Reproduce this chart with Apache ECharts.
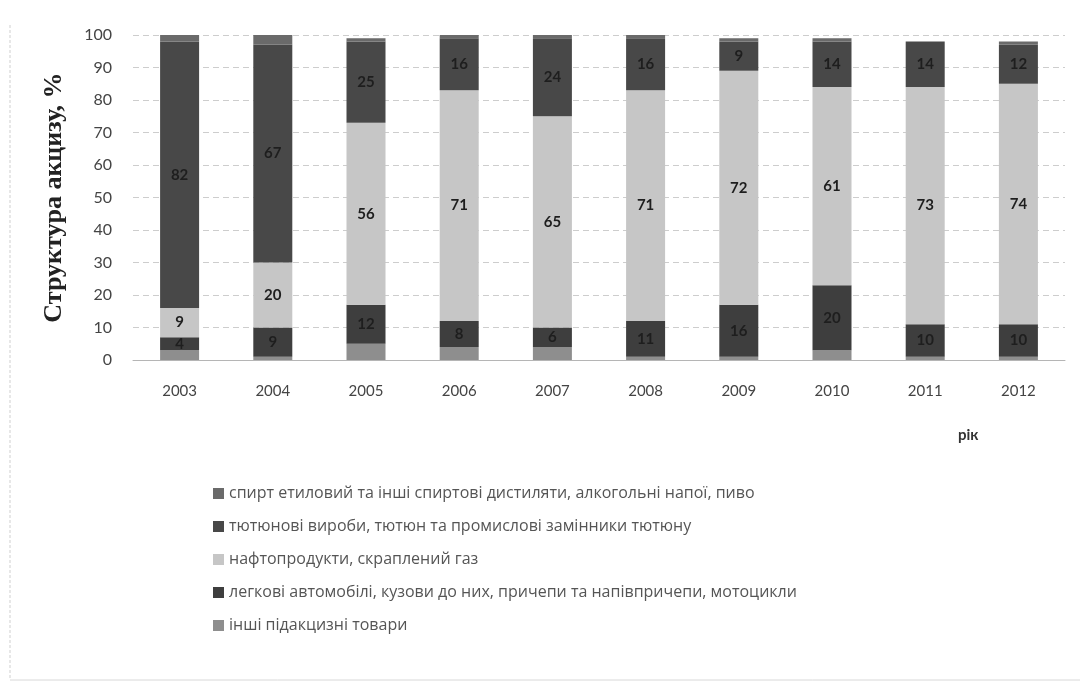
<!DOCTYPE html>
<html>
<head>
<meta charset="utf-8">
<script src="https://cdn.jsdelivr.net/npm/echarts@6/dist/echarts.min.js"></script>
<style>
html,body{margin:0;padding:0;background:#fff;}
#chart{width:1084px;height:687px;}
</style>
</head>
<body>
<div id="chart"></div>
<script>
// Categories
const years = ['2003','2004','2005','2006','2007','2008','2009','2010','2011','2012'];
// Series names (legend order, top to bottom)
const nameAlcohol = 'спирт етиловий та інші спиртові дистиляти, алкогольні напої, пиво';
const nameTobacco = 'тютюнові вироби, тютюн та промислові замінники тютюну';
const namePetrol  = 'нафтопродукти, скраплений газ';
const nameCars    = 'легкові автомобілі, кузови до них, причепи та напівпричепи, мотоцикли';
const nameOther   = 'інші підакцизні товари';
// Values, % (stacked bottom to top: other, cars, petroleum, tobacco, alcohol)
const other   = [3, 1, 5, 4, 4, 1, 1, 3, 1, 1];
const cars    = [4, 9, 12, 8, 6, 11, 16, 20, 10, 10];
const petrol  = [9, 20, 56, 71, 65, 71, 72, 61, 73, 74];
const tobacco = [82, 67, 25, 16, 24, 16, 9, 14, 14, 12];
const alcohol = [2, 3, 1, 1, 1, 1, 1, 1, 0, 1];
// Y axis ticks
const yMin = 0, yMax = 100, yStep = 10;

const chart = echarts.init(document.getElementById('chart'));
const font = 'Lato, "Open Sans", sans-serif';
const lbl = (minV) => ({
  show: true, position: 'inside', color: '#1e1e1e', fontSize: 15, fontWeight: 'bold', fontFamily: font,
  formatter: p => (p.value >= minV ? p.value : '')
});
function bar(name, data, color, label) {
  return {
    name, type: 'bar', stack: 'total', data, barWidth: 39,
    itemStyle: { color },
    label: label || { show: false },
    emphasis: { disabled: true }
  };
}
chart.setOption({
  animation: false,
  backgroundColor: '#ffffff',
  grid: { left: 133, right: 19, top: 35, bottom: 327 },
  xAxis: {
    type: 'category', data: years,
    axisTick: { show: false },
    axisLine: { show: true, lineStyle: { color: '#b5b5b5', width: 1 } },
    axisLabel: { margin: 24, fontSize: 15, color: '#444', fontFamily: font }
  },
  yAxis: {
    type: 'value', min: yMin, max: yMax, interval: yStep,
    axisLine: { show: false }, axisTick: { show: false },
    axisLabel: { margin: 21, fontSize: 16, color: '#444', fontFamily: font },
    splitLine: { lineStyle: { color: '#cdcdcd', type: [6, 4], width: 1 } },
    name: 'Структура акцизу, %', nameLocation: 'middle', nameGap: 66, nameRotate: 90,
    nameTextStyle: { fontFamily: '"Liberation Serif", serif', fontWeight: 'bold', fontSize: 26, color: '#222' }
  },
  legend: {
    orient: 'vertical', left: 208, top: 479, itemGap: 14, itemWidth: 11, itemHeight: 11,
    icon: 'rect',
    textStyle: { fontSize: 16, color: '#555', fontFamily: '"Open Sans", sans-serif', lineHeight: 19 },
    data: [nameAlcohol, nameTobacco, namePetrol, nameCars, nameOther]
  },
  graphic: [
    { type: 'text', left: 958, top: 428, style: { text: 'рік', font: 'bold 15px Lato, sans-serif', fill: '#333' } },
    { type: 'line', shape: { x1: 10, y1: 25, x2: 10, y2: 680 }, style: { stroke: '#cfcfcf', lineWidth: 1, lineDash: [3, 2] } },
    { type: 'line', shape: { x1: 10, y1: 680, x2: 1080, y2: 680 }, style: { stroke: '#d8d8d8', lineWidth: 1 } }
  ],
  series: [
    bar(nameOther, other, '#8e8e8e'),
    bar(nameCars, cars, '#3e3e3e', lbl(4)),
    bar(namePetrol, petrol, '#c6c6c6', lbl(4)),
    bar(nameTobacco, tobacco, '#484848', lbl(4)),
    bar(nameAlcohol, alcohol, '#6a6a6a')
  ]
});
</script>
</body>
</html>
